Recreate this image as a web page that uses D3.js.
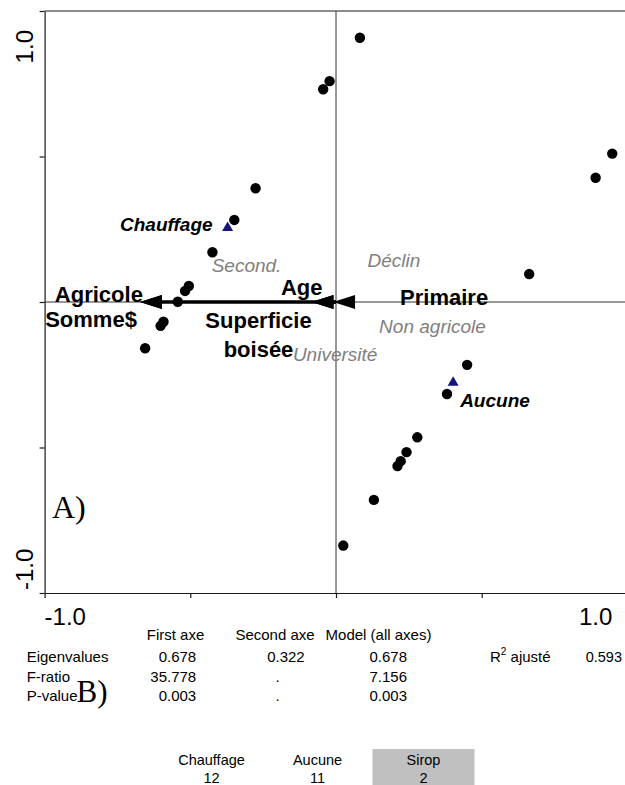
<!DOCTYPE html>
<html>
<head>
<meta charset="utf-8">
<script src="https://cdn.jsdelivr.net/npm/d3@7"></script>
<style>
  body { margin: 0; background: #fff; }
  svg { display: block; font-family: Arial, "Liberation Sans", sans-serif; }
</style>
</head>
<body>
<div id="chart"></div>
<script>
// sample scores on the two axes
const sampleX = [0.082, -0.022, -0.044, -0.276, -0.349, -0.424, -0.505, -0.518, -0.543, -0.592, -0.602, -0.655,
  0.948, 0.891, 0.663, 0.450, 0.381, 0.279, 0.242, 0.222, 0.211, 0.130, 0.025];
const sampleY = [0.908, 0.759, 0.731, 0.391, 0.282, 0.171, 0.055, 0.038, 0.001, -0.068, -0.082, -0.159,
  0.510, 0.427, 0.096, -0.216, -0.316, -0.465, -0.516, -0.547, -0.564, -0.680, -0.837];

// class centroids (triangles)
const classNames = ["Chauffage", "Aucune"];
const classX = [-0.372, 0.402];
const classY = [0.255, -0.277];

// environmental variable arrows
const envNames = ["Agricole", "Somme$", "Age", "Superficie boisée", "Primaire"];
const envX = [-0.673, -0.673, -0.084, -0.084, -0.010];
const envY = [0, 0, 0, 0, 0];

// nominal variable centroids (grey labels)
const nominalNames = ["Second.", "Déclin", "Non agricole", "Université"];
const nominalX = [-0.307, 0.199, 0.331, -0.003];
const nominalY = [0.127, 0.143, -0.085, -0.181];

// axis ticks
const tickValues = [-1, -0.5, 0, 0.5, 1];
const tickLabels = ["-1.0", "1.0"];

// summary table
const statCols = ["First axe", "Second axe", "Model (all axes)"];
const statRows = ["Eigenvalues", "F-ratio", "P-value"];
const firstAxe = ["0.678", "35.778", "0.003"];
const secondAxe = ["0.322", ".", "."];
const modelAll = ["0.678", "7.156", "0.003"];
const r2Label = "ajusté";
const r2Value = "0.593";

// legend
const legendClasses = ["Chauffage", "Aucune", "Sirop"];
const legendCounts = [12, 11, 2];

class TriplotChart {
  constructor(_config) {
    this.config = {
      parentElement: _config.parentElement,
      containerWidth: _config.containerWidth || 625,
      containerHeight: _config.containerHeight || 785,
      plot: { left: 44.6, right: 627.4, top: 11, bottom: 593 },
    };
    this.initVis();
  }

  initVis() {
    let vis = this;
    const p = vis.config.plot;

    vis.svg = d3.select(vis.config.parentElement)
      .append("svg")
      .attr("width", vis.config.containerWidth)
      .attr("height", vis.config.containerHeight);

    vis.xScale = d3.scaleLinear().domain([-1, 1]).range([p.left, p.right]);
    vis.yScale = d3.scaleLinear().domain([-1, 1]).range([p.bottom, p.top]);

    vis.renderVis();
  }

  renderVis() {
    let vis = this;
    const x = vis.xScale, y = vis.yScale;
    const ink = "#1a1a1a";

    // frame: left + bottom axes, top border, zero lines
    const xAxis = d3.axisBottom(x).tickValues(tickValues).tickSize(5).tickSizeOuter(0).tickFormat("");
    const yAxis = d3.axisLeft(y).tickValues(tickValues).tickSize(5).tickSizeOuter(0).tickFormat("");

    const gx = vis.svg.append("g").attr("transform", `translate(0,${y(-1)})`).call(xAxis);
    const gy = vis.svg.append("g").attr("transform", `translate(${x(-1)},0)`).call(yAxis);
    [gx, gy].forEach((g) => {
      g.selectAll("path, line").attr("stroke", ink).attr("stroke-width", 1.2);
    });

    vis.svg.append("line")
      .attr("x1", x(-1)).attr("x2", x(1))
      .attr("y1", y(1)).attr("y2", y(1))
      .attr("stroke", ink).attr("stroke-width", 1.2);

    vis.svg.append("line")
      .attr("x1", x(-1)).attr("x2", x(1))
      .attr("y1", y(0)).attr("y2", y(0))
      .attr("stroke", "#333").attr("stroke-width", 1);
    vis.svg.append("line")
      .attr("x1", x(0)).attr("x2", x(0))
      .attr("y1", y(1)).attr("y2", y(-1))
      .attr("stroke", "#333").attr("stroke-width", 1);

    // tick labels at the ends only
    vis.svg.append("text")
      .attr("x", x(-1)).attr("y", 625)
      .attr("font-size", 24).attr("fill", "#000")
      .text(tickLabels[0]);
    vis.svg.append("text")
      .attr("x", x(1) - 15).attr("y", 625)
      .attr("text-anchor", "end")
      .attr("font-size", 24).attr("fill", "#000")
      .text(tickLabels[1]);
    vis.svg.append("text")
      .attr("transform", `translate(33,${y(-1) - 3}) rotate(-90)`)
      .attr("font-size", 24).attr("fill", "#000")
      .text(tickLabels[0]);
    vis.svg.append("text")
      .attr("transform", `translate(33,${y(1) + 19}) rotate(-90)`)
      .attr("text-anchor", "end")
      .attr("font-size", 24).attr("fill", "#000")
      .text(tickLabels[1]);

    // nominal labels
    vis.svg.selectAll(".nominal")
      .data(nominalNames)
      .join("text")
      .attr("class", "nominal")
      .attr("x", (d, i) => x(nominalX[i]))
      .attr("y", (d, i) => y(nominalY[i]))
      .attr("dy", "0.35em")
      .attr("text-anchor", "middle")
      .attr("font-size", 19)
      .attr("font-style", "italic")
      .attr("fill", "#808080")
      .text((d) => d);

    // arrows
    const headLen = 22, headHalf = 7;
    const arrows = envNames.map((name, i) => {
      const tx = x(envX[i]), ty = y(envY[i]);
      const ox = x(0), oy = y(0);
      const len = Math.hypot(tx - ox, ty - oy) || 1;
      const ux = (ox - tx) / len, uy = (oy - ty) / len;
      return { name, tx, ty, ox, oy, ux, uy, len };
    });

    vis.svg.selectAll(".arrow-line")
      .data(arrows.filter((a) => a.len > headLen))
      .join("line")
      .attr("class", "arrow-line")
      .attr("x1", (a) => a.ox).attr("y1", (a) => a.oy)
      .attr("x2", (a) => a.tx + a.ux * headLen).attr("y2", (a) => a.ty + a.uy * headLen)
      .attr("stroke", "#000").attr("stroke-width", 3);

    vis.svg.selectAll(".arrow-head")
      .data(arrows)
      .join("path")
      .attr("class", "arrow-head")
      .attr("d", (a) => {
        const bx = a.tx + a.ux * headLen, by = a.ty + a.uy * headLen;
        const px = -a.uy * headHalf, py = a.ux * headHalf;
        return `M${a.tx},${a.ty}L${bx + px},${by + py}L${bx - px},${by - py}Z`;
      })
      .attr("fill", "#000");

    // arrow labels, offset from the tips
    const labelOffsets = {
      "Agricole": { dx: 3, dy: 0, anchor: "end" },
      "Somme$": { dx: -3, dy: 25, anchor: "end" },
      "Age": { dx: 11, dy: -7, anchor: "end" },
      "Superficie boisée": { dx: -53, dy: 26, anchor: "middle" },
      "Primaire": { dx: 67, dy: 3, anchor: "start" },
    };
    arrows.forEach((a) => {
      const o = labelOffsets[a.name];
      const t = vis.svg.append("text")
        .attr("x", a.tx + o.dx)
        .attr("y", a.ty + o.dy)
        .attr("text-anchor", o.anchor)
        .attr("font-size", 22)
        .attr("font-weight", "bold")
        .attr("fill", "#000");
      a.name.split(" ").forEach((word, k) => {
        t.append("tspan")
          .attr("x", a.tx + o.dx)
          .attr("dy", k === 0 ? 0 : 28.5)
          .text(word);
      });
    });

    // samples
    vis.svg.selectAll(".sample")
      .data(sampleX)
      .join("circle")
      .attr("class", "sample")
      .attr("cx", (d) => x(d))
      .attr("cy", (d, i) => y(sampleY[i]))
      .attr("r", 5.2)
      .attr("fill", "#000");

    // class centroids
    vis.svg.selectAll(".centroid")
      .data(classNames)
      .join("path")
      .attr("class", "centroid")
      .attr("transform", (d, i) => `translate(${x(classX[i])},${y(classY[i])})`)
      .attr("d", d3.symbol(d3.symbolTriangle, 52))
      .attr("fill", "#14147a");

    const classOffsets = [
      { dx: -15, dy: 3, anchor: "end" },
      { dx: 7, dy: 24, anchor: "start" },
    ];
    vis.svg.selectAll(".centroid-label")
      .data(classNames)
      .join("text")
      .attr("class", "centroid-label")
      .attr("x", (d, i) => x(classX[i]) + classOffsets[i].dx)
      .attr("y", (d, i) => y(classY[i]) + classOffsets[i].dy)
      .attr("text-anchor", (d, i) => classOffsets[i].anchor)
      .attr("font-size", 19)
      .attr("font-weight", "bold")
      .attr("font-style", "italic")
      .attr("fill", "#000")
      .text((d) => d);

    // panel letters
    vis.svg.append("text")
      .attr("x", 52).attr("y", 518)
      .attr("font-family", "'Liberation Serif', 'Times New Roman', serif")
      .attr("font-size", 32)
      .text("A)");

    vis.renderTable();
    vis.renderLegend();
  }

  renderTable() {
    let vis = this;
    const fs = 15;
    const headerX = [175.5, 275, 378.5];
    const decimalX = [167, 275.5, 377.8];
    const rowY = [662, 682, 701];
    const columns = [firstAxe, secondAxe, modelAll];

    vis.svg.selectAll(".col-head")
      .data(statCols)
      .join("text")
      .attr("class", "col-head")
      .attr("x", (d, i) => headerX[i])
      .attr("y", 640)
      .attr("text-anchor", "middle")
      .attr("font-size", fs)
      .text((d) => d);

    vis.svg.selectAll(".row-head")
      .data(statRows)
      .join("text")
      .attr("class", "row-head")
      .attr("x", 26.7)
      .attr("y", (d, i) => rowY[i])
      .attr("font-size", fs)
      .text((d) => d);

    columns.forEach((col, c) => {
      col.forEach((v, r) => {
        const cut = v.indexOf(".");
        vis.svg.append("text")
          .attr("x", decimalX[c]).attr("y", rowY[r])
          .attr("text-anchor", "end")
          .attr("font-size", fs)
          .text(v.slice(0, cut));
        vis.svg.append("text")
          .attr("x", decimalX[c]).attr("y", rowY[r])
          .attr("font-size", fs)
          .text(v.slice(cut));
      });
    });

    const r2 = vis.svg.append("text")
      .attr("x", 490).attr("y", rowY[0])
      .attr("font-size", fs);
    r2.append("tspan").text("R");
    r2.append("tspan").attr("font-size", 10).attr("dy", -7).text("2");
    r2.append("tspan").attr("dy", 7).text(" " + r2Label);

    vis.svg.append("text")
      .attr("x", 622).attr("y", rowY[0])
      .attr("text-anchor", "end")
      .attr("font-size", 14.5)
      .text(r2Value);

    vis.svg.append("text")
      .attr("x", 76.5).attr("y", 702)
      .attr("font-family", "'Liberation Serif', 'Times New Roman', serif")
      .attr("font-size", 31)
      .text("B)");
  }

  renderLegend() {
    let vis = this;
    const cx = d3.scalePoint().domain(legendClasses).range([211.5, 423.5]);
    const boxW = 102;

    const cells = vis.svg.selectAll(".legend-cell")
      .data(legendClasses)
      .join("g")
      .attr("class", "legend-cell")
      .attr("transform", (d) => `translate(${cx(d)},0)`);

    cells.append("rect")
      .attr("x", -boxW / 2).attr("y", 749)
      .attr("width", boxW).attr("height", 40)
      .attr("fill", (d) => (d === "Sirop" ? "#c0c0c0" : "none"));

    cells.append("text")
      .attr("y", 765)
      .attr("text-anchor", "middle")
      .attr("font-size", 14.5)
      .text((d) => d);

    cells.append("text")
      .attr("y", 783)
      .attr("text-anchor", "middle")
      .attr("font-size", 14.5)
      .text((d, i) => legendCounts[i]);
  }
}

new TriplotChart({ parentElement: "#chart" });
</script>
</body>
</html>
